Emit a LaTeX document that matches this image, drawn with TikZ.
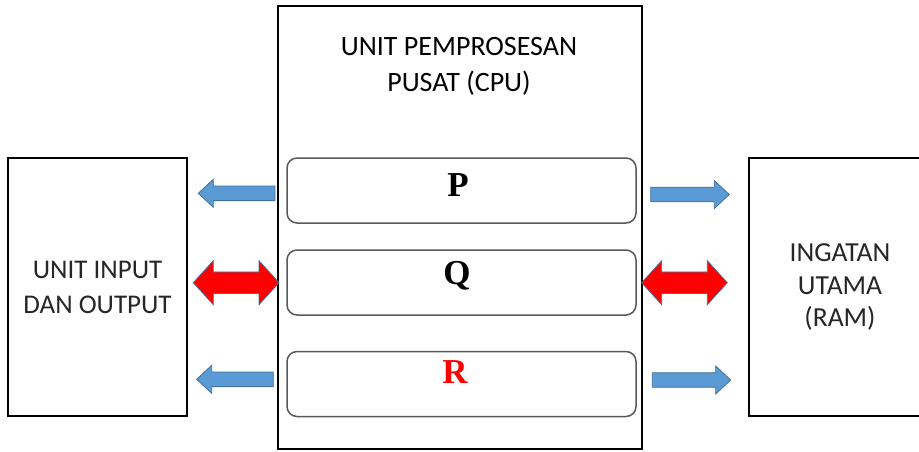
\documentclass[tikz,border=0pt]{standalone}
\usepackage{fontspec}
\setmainfont{Carlito}
\newfontfamily\tnrfont{Liberation Serif}
\definecolor{arrBlue}{HTML}{5B9BD5}
\definecolor{arrEdge}{HTML}{41719C}
\definecolor{boxGrey}{HTML}{595959}
\definecolor{txtDark}{HTML}{262626}
\tikzset{
  outerbox/.style={draw=black, line width=1.4pt, rectangle, inner sep=0pt},
  cpubox/.style={draw=black, line width=2pt, rectangle, inner sep=0pt},
  regbox/.style={draw=boxGrey, line width=1.5pt, rectangle, rounded corners=10pt, inner sep=0pt,
    minimum width=349pt, minimum height=65pt},
  reglabel/.style={font=\tnrfont\bfseries\fontsize{35}{40}\selectfont, anchor=base, inner sep=0pt},
  boxtext/.style={text=txtDark, align=center},
  blueArr/.style={fill=arrBlue, draw=arrEdge, line width=0.8pt, line join=miter},
  redArr/.style={fill=red, draw=arrEdge, line width=0.8pt, line join=miter}
}
\newcommand\arrLeft[3]{% tip x, tail x, centre y
  \path[blueArr] (#1,#3) -- (#1+15,#3-14) -- (#1+15,#3-7.3) -- (#2,#3-7.3) -- (#2,#3+7.3)
    -- (#1+15,#3+7.3) -- (#1+15,#3+14) -- cycle;}
\newcommand\arrRight[3]{% tail x, tip x, centre y
  \path[blueArr] (#2,#3) -- (#2-15,#3-14) -- (#2-15,#3-7.3) -- (#1,#3-7.3) -- (#1,#3+7.3)
    -- (#2-15,#3+7.3) -- (#2-15,#3+14) -- cycle;}
\newcommand\arrBoth[3]{% left tip, right tip, centre y
  \path[redArr] (#1,#3) -- (#1+20,#3-22) -- (#1+20,#3-10.8) -- (#2-20,#3-10.8) -- (#2-20,#3-22)
    -- (#2,#3) -- (#2-20,#3+22) -- (#2-20,#3+10.8) -- (#1+20,#3+10.8) -- (#1+20,#3+22) -- cycle;}
\begin{document}
\begin{tikzpicture}[x=1pt, y=-1pt]
\clip (0,0) rectangle (919,451);
\fill[white] (0,0) rectangle (919,451);

% side boxes
\node[outerbox, minimum width=179pt, minimum height=258pt] (io) at (97.5,287) {};
\node[boxtext, font=\fontsize{27}{35}\selectfont] (iotext) at (io.center) {UNIT INPUT\\DAN OUTPUT};
\node[outerbox, minimum width=182pt, minimum height=258pt] (ram) at (840,287) {};
\node[boxtext, font=\fontsize{27.5}{32.5}\selectfont] (ramtext) at (ram.center) {INGATAN\\UTAMA\\(RAM)};

% CPU
\node[cpubox, minimum width=364pt, minimum height=443pt] (cpu) at (460,227.5) {};
\node[align=center, anchor=north, inner sep=0pt, font=\fontsize{28}{36.5}\selectfont] (cputitle) at (459,37) {UNIT PEMPROSESAN\\PUSAT (CPU)};

% registers
\node[regbox] (p) at (461.5,190.5) {};
\node[regbox] (q) at (461.5,282.5) {};
\node[regbox] (r) at (461.5,384) {};
\node[reglabel] (pl) at (458,196) {P};
\node[reglabel] (ql) at (457,284) {Q};
\node[reglabel, text=red] (rl) at (455,383.5) {R};

% arrows
\arrLeft{198.3}{275}{193.3}
\arrBoth{193.3}{279}{282.7}
\arrLeft{196.7}{273.3}{379.3}
\arrRight{650.7}{729.3}{194.5}
\arrBoth{641.7}{727.3}{282.7}
\arrRight{652.3}{730.7}{380}
\end{tikzpicture}
\end{document}
